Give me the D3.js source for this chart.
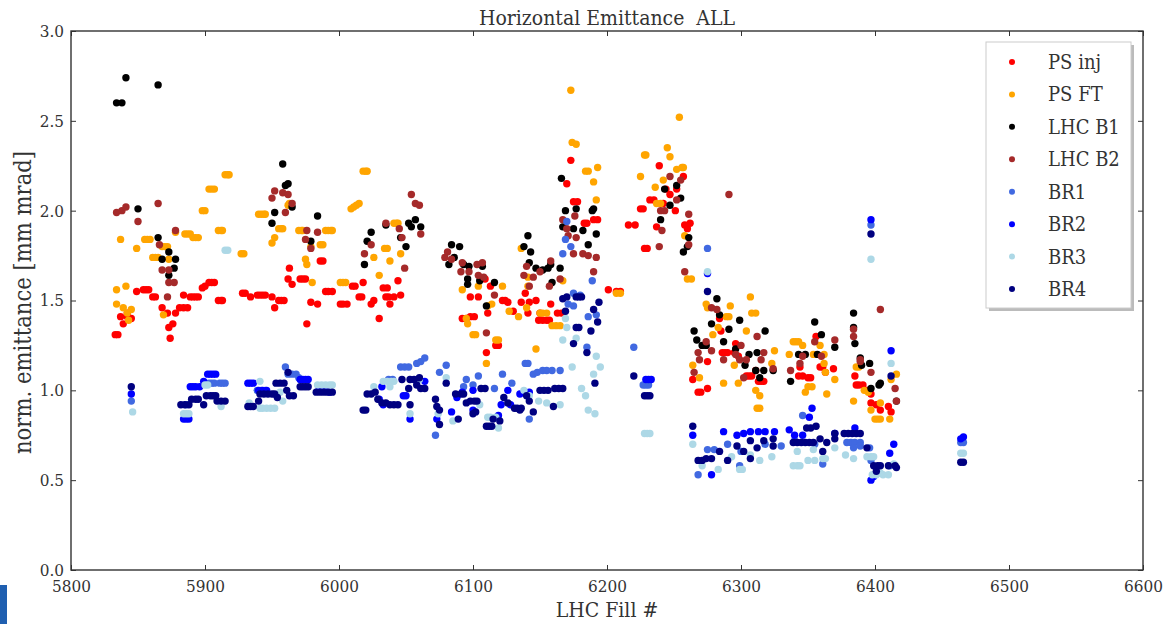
<!DOCTYPE html>
<html>
<head>
<meta charset="utf-8">
<script src="https://cdn.jsdelivr.net/npm/d3@7"></script>
<style>
  body { margin: 0; background: #fff; }
  svg text { font-family: "DejaVu Serif", serif; font-stretch: condensed; fill: #333; }
</style>
</head>
<body>
<div id="chart"></div>
<script>
// Data: [LHC fill, normalised emittance]
const psInj = [[5833,1.31],[5835,1.31],[5837,1.41],[5839,1.37],[5842,1.43],[5842,1.41],[5845,1.40],[5849,1.55],[5854,1.56],[5856,1.56],[5858,1.56],[5861,1.52],[5863,1.52],[5868,1.46],[5872,1.43],[5873,1.35],[5876,1.37],[5874,1.29],[5878,1.43],[5881,1.46],[5884,1.46],[5887,1.46],[5884,1.53],[5889,1.52],[5891,1.52],[5893,1.52],[5895,1.52],[5898,1.57],[5900,1.58],[5903,1.60],[5905,1.60],[5907,1.60],[5910,1.50],[5912,1.50],[5913,1.50],[5928,1.54],[5930,1.54],[5934,1.52],[5939,1.53],[5941,1.53],[5943,1.53],[5945,1.53],[5950,1.52],[5952,1.46],[5955,1.50],[5957,1.50],[5959,1.50],[5963,1.68],[5962,1.62],[5965,1.59],[5971,1.62],[5973,1.62],[5975,1.62],[5976,1.37],[5979,1.49],[5984,1.48],[5986,1.72],[5988,1.72],[5990,1.55],[5992,1.55],[5995,1.55],[6001,1.48],[6003,1.48],[6006,1.48],[6010,1.58],[6012,1.58],[6015,1.52],[6017,1.52],[6018,1.60],[6024,1.48],[6026,1.50],[6030,1.40],[6033,1.57],[6036,1.57],[6035,1.52],[6037,1.52],[6041,1.52],[6038,1.48],[6044,1.61],[6046,1.53],
  [6092,1.40],[6095,1.40],[6098,1.41],[6101,1.41],[6098,1.52],[6104,1.52],[6109,1.62],[6113,1.58],[6111,1.43],[6110,1.21],[6117,1.25],[6119,1.25],[6122,1.50],[6124,1.50],[6126,1.49],[6130,1.44],[6136,1.49],[6139,1.54],[6142,1.49],[6141,1.43],[6147,1.50],[6149,1.39],[6152,1.39],[6155,1.39],[6157,1.39],[6150,1.43],[6158,1.48],[6163,1.43],[6166,1.43],[6170,2.15],[6173,2.28],[6175,2.05],[6178,2.05],[6183,1.93],[6185,1.93],[6190,1.95],[6193,1.95],[6201,1.56],[6207,1.55],[6210,1.55],[6216,1.92],[6221,1.92],
  [6225,2.01],[6227,2.01],[6228,1.79],[6230,1.79],[6232,2.06],[6235,2.06],[6239,2.25],[6237,1.91],[6242,2.04],[6244,2.12],[6247,2.09],[6251,2.00],[6252,2.12],[6257,2.19],[6258,1.92],[6260,1.90],[6262,1.93],
  [6264,1.06],[6268,0.99],[6270,0.99],[6275,1.01],[6275,1.16],[6284,1.40],[6285,1.33],[6286,1.21],[6288,1.21],[6290,1.21],[6296,1.26],[6298,1.19],[6295,1.21],[6304,1.08],[6306,1.08],[6308,1.08],[6313,1.05],[6315,1.05],[6317,1.05],[6311,1.11],[6343,1.08],[6346,1.08],[6350,1.07],[6352,1.07],[6344,1.13],[6356,1.30],[6359,1.13],[6361,1.13],[6363,1.10],[6369,1.12],[6385,1.08],[6386,1.03],[6388,1.03],[6391,1.03],[6394,1.00],[6397,0.98],[6397,0.93],[6401,0.92],[6404,0.89],[6410,0.91],[6412,0.88]];

const psFT = [[5834,1.56],[5834,1.48],[5837,1.84],[5841,1.58],[5839,1.46],[5842,1.43],[5845,1.45],[5843,1.39],[5849,1.79],[5855,1.84],[5857,1.84],[5859,1.84],[5861,1.74],[5863,1.74],[5865,1.74],[5868,1.80],[5870,1.80],[5872,1.80],[5869,1.42],[5873,1.73],[5878,1.88],[5885,1.87],[5887,1.87],[5889,1.87],[5891,1.85],[5893,1.85],[5895,1.85],[5898,2.00],[5900,2.00],[5903,2.12],[5905,2.12],[5907,2.12],[5910,1.89],[5912,1.89],[5913,1.89],[5915,2.20],[5917,2.20],[5918,2.20],[5927,1.76],[5929,1.76],[5940,1.98],[5942,1.98],[5944,1.98],[5945,1.98],[5950,1.82],[5952,1.85],[5955,1.90],[5957,1.90],[5958,1.90],[5962,2.03],[5963,2.04],[5970,1.89],[5972,1.89],[5973,1.89],[5976,1.70],[5975,1.73],[5979,1.80],[5980,1.60],[5986,1.81],[5988,1.81],[5990,1.89],[5992,1.89],[5994,1.89],[5995,1.89],[6001,1.60],[6003,1.60],[6005,1.60],[6009,2.01],[6011,2.02],[6013,2.03],[6015,2.04],[6018,2.22],[6020,2.22],[6021,2.22],[6026,1.74],[6030,1.64],[6034,1.79],[6036,1.79],[6038,1.72],[6041,1.93],[6043,1.93],[6044,1.93],[6046,1.76],
  [6092,1.56],[6095,1.40],[6096,1.37],[6100,1.31],[6102,1.31],[6104,1.58],[6110,1.15],[6111,1.47],[6114,1.48],[6117,1.28],[6119,1.28],[6122,1.58],[6127,1.44],[6134,1.41],[6136,1.79],[6141,1.63],[6141,1.58],[6140,1.46],[6147,1.23],[6150,1.43],[6152,1.43],[6155,1.43],[6159,1.36],[6162,1.36],[6165,1.36],[6167,1.61],[6173,2.67],[6174,2.38],[6177,2.37],[6184,2.22],[6186,2.22],[6193,2.24],[6190,2.16],[6192,2.06],[6207,1.54],[6210,1.54],
  [6225,2.19],[6228,2.31],[6229,2.31],[6236,2.13],[6237,2.04],[6240,2.04],[6242,2.17],[6245,2.35],[6247,2.30],[6252,2.23],[6254,2.52],[6256,2.24],[6257,2.24],[6258,1.86],[6260,1.62],[6263,1.62],
  [6264,1.14],[6269,1.07],[6274,1.48],[6275,1.46],[6279,1.31],[6283,1.35],[6289,1.41],[6291,1.41],[6292,1.47],[6287,1.04],[6295,1.14],[6298,1.04],[6304,1.33],[6307,1.52],[6308,1.43],[6311,1.43],[6311,1.00],[6314,0.97],[6312,0.90],[6314,0.90],[6323,1.15],[6325,1.22],[6336,1.20],[6339,1.27],[6341,1.27],[6343,1.27],[6346,1.25],[6348,0.99],[6350,1.02],[6353,1.02],[6354,1.20],[6359,1.25],[6362,1.15],[6362,1.20],[6363,1.10],[6364,0.98],[6370,1.06],[6384,0.94],[6386,1.13],[6388,1.13],[6392,1.00],[6395,0.99],[6397,0.89],[6400,0.84],[6402,0.84],[6404,0.84],[6404,0.93],[6411,0.84],[6412,1.06],[6416,1.09]];

const lhcB1 = [[5834,2.60],[5838,2.60],[5841,2.74],[5865,2.70],[5850,2.01],[5865,1.85],[5868,1.73],[5873,1.77],[5873,1.64],[5877,1.68],[5878,1.73],[5958,2.26],[5960,2.14],[5962,2.15],[5965,2.02],[5952,1.99],[5950,1.93],[5979,1.83],[5984,1.97],[6019,1.70],[6021,1.83],[6024,1.88],[6035,1.92],[6046,1.85],[6050,1.80],[6052,1.93],[6054,1.91],[6057,1.95],[6061,1.91],[6082,1.70],[6084,1.81],[6086,1.74],[6090,1.80],[6093,1.70],[6096,1.62],[6096,1.59],[6097,1.69],[6105,1.61],[6107,1.69],[6110,1.47],[6116,1.60],[6138,1.80],[6141,1.86],[6142,1.71],[6143,1.77],[6147,1.68],[6152,1.67],[6156,1.68],[6158,1.70],[6159,1.60],[6165,1.68],[6166,2.18],[6167,1.91],[6169,2.00],[6175,1.90],[6177,2.01],[6182,1.89],[6186,1.81],[6189,2.00],[6190,2.01],[6192,1.87],[6240,1.95],[6243,2.12],[6247,2.03],[6252,2.14],[6255,2.07],[6257,1.77],[6260,1.80],[6261,1.85],[6265,1.33],[6267,1.28],[6271,1.25],[6274,1.25],[6278,1.37],[6282,1.51],[6284,1.42],[6287,1.27],[6291,1.34],[6296,1.23],[6299,1.39],[6303,1.14],[6306,1.20],[6311,1.11],[6312,1.21],[6314,1.07],[6317,1.11],[6318,1.33],[6324,1.11],[6337,1.05],[6343,1.20],[6348,1.20],[6355,1.38],[6357,1.20],[6360,1.31],[6370,1.24],[6384,1.43],[6384,1.35],[6385,1.26],[6389,1.18],[6390,1.14],[6396,1.15],[6397,1.01],[6403,1.03],[6404,1.04],[6416,0.94]];

const lhcB2 = [[5834,1.99],[5838,2.00],[5841,2.02],[5850,1.94],[5865,2.04],[5866,1.81],[5868,1.67],[5873,1.67],[5873,1.60],[5877,1.60],[5872,1.52],[5878,1.89],[5950,2.07],[5952,2.11],[5958,2.10],[5962,2.09],[5960,1.99],[5965,2.04],[5976,1.89],[5975,1.84],[5979,1.79],[5984,1.88],[6019,1.76],[6024,1.81],[6035,1.93],[6045,1.90],[6047,1.85],[6049,1.68],[6054,2.09],[6057,2.04],[6060,2.03],[6061,1.87],[6079,1.74],[6081,1.77],[6084,1.73],[6091,1.66],[6092,1.71],[6097,1.66],[6103,1.70],[6104,1.64],[6107,1.71],[6108,1.63],[6110,1.32],[6116,1.53],[6138,1.64],[6140,1.69],[6142,1.58],[6145,1.63],[6150,1.66],[6157,1.58],[6158,1.72],[6165,1.62],[6167,1.95],[6170,1.90],[6171,1.86],[6176,1.97],[6177,1.85],[6175,1.76],[6182,1.76],[6186,1.75],[6190,1.66],[6192,1.74],[6239,1.80],[6240,2.00],[6241,1.89],[6243,2.00],[6247,2.19],[6252,2.06],[6255,2.17],[6258,1.66],[6261,1.98],[6261,1.81],[6291,2.09],[6265,1.10],[6268,1.21],[6269,1.17],[6274,1.27],[6278,1.46],[6278,1.22],[6282,1.45],[6287,1.17],[6296,1.20],[6299,1.17],[6300,1.25],[6302,1.07],[6304,1.17],[6312,1.30],[6315,1.17],[6317,1.21],[6324,1.12],[6337,1.11],[6344,1.15],[6346,1.19],[6355,1.27],[6360,1.19],[6370,1.28],[6384,1.34],[6384,1.30],[6389,1.16],[6389,1.17],[6397,1.10],[6404,1.45],[6415,1.01],[6416,0.94]];

const br1 = [[5845,0.94],[5886,0.92],[5903,1.04],[5905,1.04],[5907,1.04],[5911,1.04],[5913,1.04],[5915,1.04],[5939,1.00],[5942,1.00],[5945,1.00],[5960,1.13],[5962,1.09],[5965,1.09],[5968,1.09],[5970,1.07],[6037,1.06],[6040,1.06],[6046,1.13],[6049,1.13],[6052,1.13],[6058,1.15],[6061,1.16],[6064,1.18],[6072,0.75],[6075,1.10],[6080,1.14],[6093,1.02],[6095,1.06],[6100,1.03],[6104,1.08],[6116,1.01],[6122,1.09],[6129,1.04],[6139,1.15],[6141,1.15],[6142,0.84],[6145,1.09],[6148,1.10],[6152,1.11],[6155,1.11],[6159,1.11],[6165,1.11],[6167,1.76],[6169,1.84],[6170,1.94],[6173,1.80],[6171,1.48],[6175,1.47],[6175,1.54],[6180,1.53],[6186,1.41],[6185,1.24],[6189,1.61],[6192,1.42],[6220,1.24],[6227,1.03],[6229,1.03],[6231,1.03],[6275,1.79],[6268,0.53],[6275,0.67],[6280,0.67],[6290,0.70],[6299,0.58],[6300,0.66],[6318,0.70],[6330,0.69],[6340,0.72],[6346,0.86],[6355,0.70],[6361,0.59],[6379,0.71],[6382,0.71],[6385,0.71],[6389,0.71],[6384,0.68],[6389,0.69],[6396,0.68],[6397,0.61],[6397,1.92],[6411,0.58],[6464,0.71],[6466,0.71]];

const br2 = [[5845,0.98],[5884,0.84],[5886,0.84],[5888,0.84],[5889,1.02],[5891,1.02],[5893,1.02],[5896,1.02],[5899,1.05],[5902,1.09],[5904,1.09],[5906,1.09],[5908,1.09],[5932,1.04],[5934,1.04],[5936,1.04],[5940,1.00],[5943,1.00],[5946,1.00],[5971,1.06],[5973,1.06],[5975,1.06],[5977,1.06],[5985,1.00],[5989,1.00],[5993,0.99],[6032,1.02],[6030,0.95],[6033,0.92],[6048,0.97],[6050,0.97],[6053,0.84],[6064,1.05],[6073,0.84],[6084,0.88],[6088,0.96],[6092,0.99],[6100,0.89],[6100,1.00],[6119,0.86],[6121,0.92],[6126,1.00],[6128,0.92],[6135,0.98],[6142,0.99],[6229,1.06],[6231,1.06],[6233,1.06],[6275,1.65],[6264,0.75],[6278,0.53],[6287,0.77],[6297,0.75],[6302,0.76],[6307,0.77],[6313,0.77],[6318,0.77],[6325,0.77],[6336,0.78],[6340,0.75],[6346,0.75],[6351,0.85],[6353,0.90],[6370,0.76],[6385,0.79],[6397,1.95],[6397,0.50],[6399,0.52],[6411,0.65],[6412,1.22],[6414,0.70],[6464,0.73],[6466,0.74]];

const br3 = [[5846,0.88],[5884,0.87],[5886,0.87],[5888,0.87],[5900,1.03],[5902,1.03],[5912,0.91],[5915,1.78],[5917,1.78],[5933,0.93],[5941,1.05],[5941,0.90],[5943,0.90],[5946,0.90],[5949,0.90],[5952,0.90],[5956,0.99],[5958,0.94],[5984,1.03],[5987,1.03],[5990,1.03],[5993,1.03],[5995,1.03],[6019,0.89],[6026,1.02],[6033,1.05],[6036,1.05],[6039,1.05],[6041,1.05],[6038,1.02],[6053,0.87],[6060,1.06],[6074,0.87],[6080,1.07],[6085,0.83],[6105,0.92],[6111,0.85],[6113,0.85],[6117,0.85],[6119,0.79],[6138,1.00],[6142,0.97],[6149,0.94],[6155,0.93],[6165,0.92],[6167,1.28],[6169,1.40],[6170,1.35],[6174,1.13],[6177,1.29],[6181,1.01],[6184,0.97],[6186,0.89],[6190,1.09],[6191,0.87],[6192,1.19],[6195,1.13],[6228,0.76],[6230,0.76],[6232,0.76],[6275,1.66],[6264,0.70],[6271,0.58],[6283,0.56],[6293,0.63],[6299,0.56],[6301,0.56],[6307,0.64],[6314,0.61],[6323,0.63],[6339,0.58],[6342,0.58],[6344,0.58],[6342,0.66],[6354,0.67],[6350,0.61],[6355,0.61],[6361,0.62],[6363,0.62],[6370,0.68],[6378,0.64],[6384,0.62],[6394,0.63],[6397,0.63],[6399,0.63],[6397,1.73],[6398,0.53],[6401,0.53],[6404,0.54],[6406,0.53],[6410,0.53],[6412,1.15],[6414,0.59],[6464,0.65],[6466,0.65]];

const br4 = [[5845,1.02],[5882,0.92],[5885,0.92],[5888,0.92],[5890,0.95],[5893,0.95],[5895,0.95],[5899,0.92],[5901,0.97],[5904,0.97],[5906,0.97],[5908,0.97],[5909,0.94],[5912,0.94],[5915,0.94],[5932,0.91],[5934,0.91],[5936,0.91],[5940,0.94],[5941,0.98],[5944,0.98],[5947,0.98],[5950,0.98],[5952,0.98],[5954,0.96],[5953,1.04],[5956,1.04],[5959,1.04],[5961,1.00],[5962,1.10],[5963,0.97],[5966,0.97],[5971,1.02],[5973,1.02],[5975,1.02],[5977,1.02],[5983,0.99],[5986,0.99],[5989,0.99],[5992,0.99],[5995,0.99],[6018,0.89],[6020,0.89],[6021,0.98],[6024,0.98],[6027,0.99],[6029,0.95],[6032,0.93],[6035,0.93],[6038,0.92],[6041,0.92],[6044,0.92],[6047,1.06],[6052,1.01],[6053,1.06],[6056,1.06],[6058,1.03],[6060,1.07],[6053,0.92],[6061,1.01],[6064,1.01],[6072,0.95],[6073,0.91],[6075,0.89],[6075,0.81],[6080,1.04],[6087,0.98],[6089,0.84],[6091,0.98],[6093,0.98],[6095,0.93],[6098,0.94],[6101,0.94],[6103,0.94],[6100,0.87],[6102,0.88],[6106,1.01],[6109,1.01],[6110,0.80],[6112,0.80],[6114,0.80],[6115,0.84],[6120,0.83],[6123,0.96],[6126,0.93],[6131,0.90],[6133,0.90],[6136,0.90],[6135,0.89],[6140,0.97],[6142,0.94],[6145,0.88],[6150,1.00],[6153,1.00],[6156,1.00],[6160,0.91],[6161,1.01],[6164,1.01],[6167,1.01],[6167,1.51],[6169,1.44],[6170,1.52],[6175,1.26],[6177,1.35],[6179,1.35],[6177,1.52],[6179,1.52],[6181,1.52],[6185,1.21],[6188,1.33],[6190,1.45],[6191,1.04],[6193,1.38],[6194,1.49],[6220,1.08],[6228,0.97],[6230,0.97],[6232,0.97],[6275,1.55],[6264,0.80],[6268,0.61],[6271,0.61],[6274,0.62],[6278,0.62],[6284,0.66],[6290,0.61],[6297,0.69],[6302,0.66],[6307,0.72],[6307,0.62],[6312,0.68],[6317,0.72],[6324,0.69],[6324,0.73],[6339,0.71],[6342,0.71],[6345,0.71],[6348,0.71],[6351,0.71],[6354,0.71],[6349,0.79],[6352,0.79],[6356,0.80],[6359,0.73],[6361,0.66],[6364,0.71],[6370,0.76],[6370,0.73],[6377,0.76],[6380,0.76],[6383,0.76],[6386,0.76],[6389,0.76],[6394,0.68],[6397,1.87],[6399,0.58],[6401,0.55],[6402,0.58],[6404,0.58],[6410,0.58],[6412,1.08],[6415,0.58],[6416,0.57],[6464,0.60],[6466,0.60]];

const seriesNames  = ["PS inj","PS FT","LHC B1","LHC B2","BR1","BR2","BR3","BR4"];
const seriesColors = ["#ff0000","#ffa500","#000000","#a52a2a","#4169e1","#0000ff","#add8e6","#000080"];
const seriesData   = [psInj, psFT, lhcB1, lhcB2, br1, br2, br3, br4];

const xTicks = [5800,5900,6000,6100,6200,6300,6400,6500,6600];
const yTicks = [0,0.5,1.0,1.5,2.0,2.5,3.0];

// Layout
const W = 1165, H = 624;
const plot = {left: 71, right: 1143, top: 31, bottom: 570};

const svg = d3.select("#chart").append("svg")
  .attr("width", W)
  .attr("height", H);

const x = d3.scaleLinear([5800, 6600], [plot.left, plot.right]);
const y = d3.scaleLinear([0, 3], [plot.bottom, plot.top]);

// Points, drawn series by series like matplotlib
seriesData.forEach((data, i) => {
  svg.append("g")
    .selectAll("circle")
    .data(data)
    .join("circle")
      .attr("cx", d => x(d[0]))
      .attr("cy", d => y(d[1]))
      .attr("r", 3.7)
      .attr("fill", seriesColors[i]);
});

// Axes with inward ticks on all four sides
const tickCol = "#333";
function styleAxis(g) {
  g.select(".domain").remove();
  g.selectAll(".tick line").attr("stroke", tickCol);
  g.selectAll(".tick text").style("font-size", "17px").attr("fill", "#333");
}

svg.append("g")
  .attr("transform", `translate(0,${plot.bottom})`)
  .call(d3.axisBottom(x).tickValues(xTicks).tickFormat(d3.format("d")).tickSize(-5).tickPadding(10))
  .call(styleAxis);

svg.append("g")
  .attr("transform", `translate(0,${plot.top})`)
  .call(d3.axisTop(x).tickValues(xTicks).tickSize(-5).tickFormat(""))
  .call(styleAxis);

svg.append("g")
  .attr("transform", `translate(${plot.left},0)`)
  .call(d3.axisLeft(y).tickValues(yTicks).tickFormat(d3.format(".1f")).tickSize(-5).tickPadding(7))
  .call(styleAxis);

svg.append("g")
  .attr("transform", `translate(${plot.right},0)`)
  .call(d3.axisRight(y).tickValues(yTicks).tickSize(-5).tickFormat(""))
  .call(styleAxis);

// Frame
svg.append("rect")
  .attr("x", plot.left)
  .attr("y", plot.top)
  .attr("width", plot.right - plot.left)
  .attr("height", plot.bottom - plot.top)
  .attr("fill", "none")
  .attr("stroke", "#333")
  .attr("stroke-width", 1.4);

// Titles
svg.append("text")
  .attr("x", (plot.left + plot.right) / 2)
  .attr("y", 25)
  .attr("text-anchor", "middle")
  .style("font-size", "21px")
  .style("white-space", "pre")
  .text("Horizontal Emittance  ALL");

svg.append("text")
  .attr("x", (plot.left + plot.right) / 2)
  .attr("y", 617)
  .attr("text-anchor", "middle")
  .style("font-size", "21px")
  .text("LHC Fill #");

svg.append("text")
  .attr("transform", `translate(31,${(plot.top + plot.bottom) / 2 + 2}) rotate(-90)`)
  .attr("text-anchor", "middle")
  .style("font-size", "23.5px")
  .text("norm. emittance [mm mrad]");

// Legend
const lg = {x: 986, y: 42, w: 145, h: 266};
svg.append("rect")
  .attr("x", lg.x + 3).attr("y", lg.y + 3)
  .attr("width", lg.w).attr("height", lg.h)
  .attr("fill", "#bbb");
svg.append("rect")
  .attr("x", lg.x).attr("y", lg.y)
  .attr("width", lg.w).attr("height", lg.h)
  .attr("fill", "#fff")
  .attr("stroke", "#ccc");

const legendRow = d3.scaleLinear([0, 7], [lg.y + 20, lg.y + 247]);
seriesNames.forEach((name, i) => {
  const ly = legendRow(i);
  svg.append("circle")
    .attr("cx", lg.x + 26).attr("cy", ly)
    .attr("r", 3).attr("fill", seriesColors[i]);
  svg.append("text")
    .attr("x", lg.x + 62).attr("y", ly + 7)
    .style("font-size", "20px")
    .text(name);
});

// Little blue tab at the lower left corner of the screenshot
svg.append("rect")
  .attr("x", 0).attr("y", 585)
  .attr("width", 7).attr("height", 39)
  .attr("fill", "#1f5fb0");
</script>
</body>
</html>
